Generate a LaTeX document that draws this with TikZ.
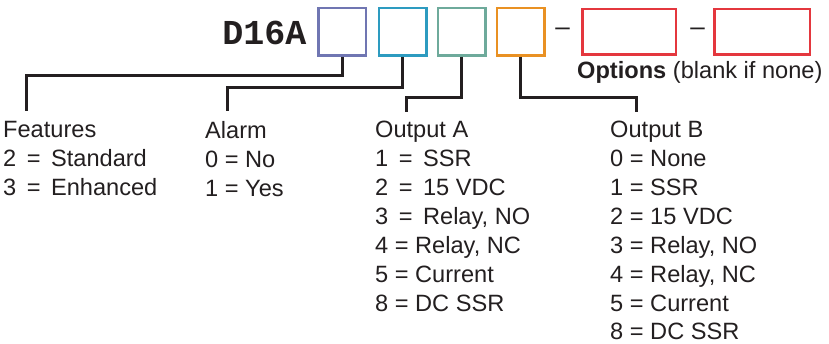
\documentclass[tikz,border=0pt]{standalone}
\usepackage{fontspec}
\setmainfont{Liberation Sans}
\newfontfamily\codefont{Liberation Mono}
\usetikzlibrary{positioning}
\definecolor{featblue}{RGB}{112,118,178}
\definecolor{alarmblue}{RGB}{45,155,192}
\definecolor{outagreen}{RGB}{110,170,155}
\definecolor{outborange}{RGB}{233,145,35}
\definecolor{optred}{RGB}{228,55,62}
\definecolor{leadblack}{RGB}{35,31,32}

\begin{document}
\begin{tikzpicture}[x=1pt, y=-1pt,
codebox/.style={rectangle, draw, line width=2.5pt, minimum width=47.5pt, minimum height=47.5pt, inner sep=0pt},
optbox/.style={codebox, draw=optred, minimum height=45.5pt},
col/.style={anchor=north west, inner sep=0pt, align=left, text=leadblack, font=\fontsize{23.6}{28.9}\selectfont},
lead/.style={line width=3pt, draw=leadblack},
]
\useasboundingbox (0,0) rectangle (829,344);

%Nodes
\node[anchor=base east, inner sep=0pt, text=leadblack, font=\codefont\bfseries\fontsize{35}{35}\selectfont] (model) at (306.5,45) {D16A};
\node[codebox, draw=featblue] (feat) at (342,32) {};
\node[codebox, draw=alarmblue] (alarm) at (402.5,32) {};
\node[codebox, draw=outagreen] (outa) at (461.5,32) {};
\node[codebox, draw=outborange] (outb) at (520.5,32) {};
\node[inner sep=0pt, text=leadblack, font=\fontsize{26}{26}\selectfont] (dashone) at (562.5,32) {\textendash};
\node[optbox, minimum width=93.5pt] (optone) at (629,32) {};
\node[inner sep=0pt, text=leadblack, font=\fontsize{26}{26}\selectfont] (dashtwo) at (697.5,32) {\textendash};
\node[optbox, minimum width=95.5pt] (opttwo) at (762,32) {};
\node[anchor=base west, inner sep=0pt, text=leadblack, font=\fontsize{23.6}{23.6}\selectfont] (optlabel) at (577,79) {\textbf{Options} (blank if none)};

\node[col] (featlist) at (3,121) {Features\\2 \,=\, Standard\\3 \,=\, Enhanced};
\node[col] (alarmlist) at (205,121) {Alarm\\0 = No\\1 = Yes};
\node[col] (outalist) at (375,121) {Output A\\1 \,=\, SSR\\2 \,=\, 15 VDC\\3 \,=\, Relay, NO\\4 = Relay, NC\\5 = Current\\8 = DC SSR};
\node[col] (outblist) at (610,121) {Output B\\0 = None\\1 = SSR\\2 = 15 VDC\\3 = Relay, NO\\4 = Relay, NC\\5 = Current\\8 = DC SSR};

\coordinate (featend) at (26,111);
\coordinate (alarmend) at (227,111);
\coordinate (outaend) at (406,112);
\coordinate (outbend) at (636,112);

%Lines
\draw[lead] (feat.south) -- ++(0,19) -| (featend);
\draw[lead] (alarm.south) -- ++(0,31) -| (alarmend);
\draw[lead] (outa.south) -- ++(0,41) -| (outaend);
\draw[lead] (outb.south) -- ++(0,41) -| (outbend);

\end{tikzpicture}
\end{document}
